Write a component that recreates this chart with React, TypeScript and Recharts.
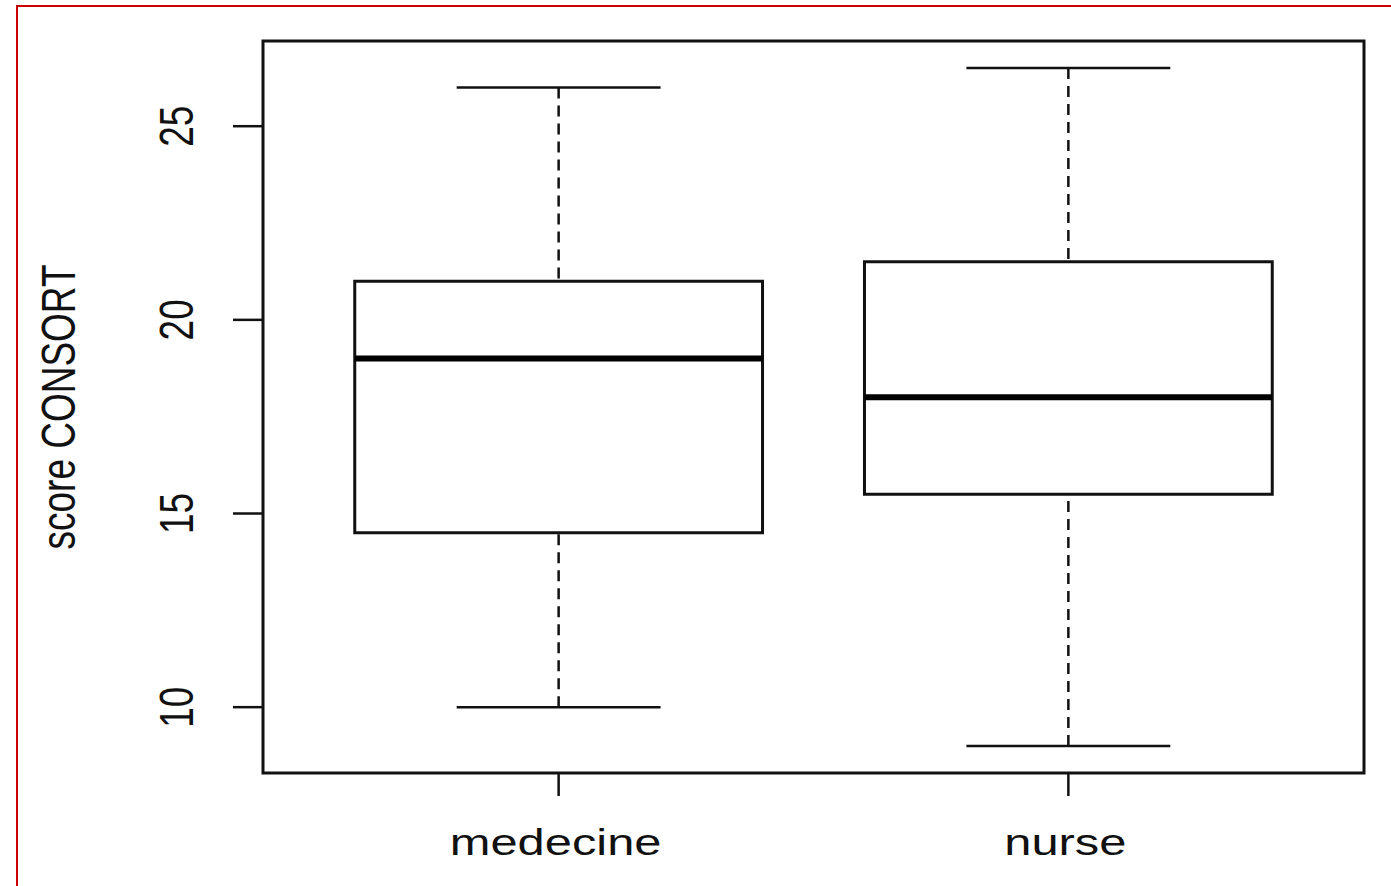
import React from 'react';
import { ComposedChart, XAxis, YAxis, ReferenceArea, ReferenceLine, Scatter } from 'recharts';

// ---- data ----
const categories = ['medecine', 'nurse'];
const positions = [1, 2];
const whiskerLow = [10, 9];
const q1 = [14.5, 15.5];
const median = [19, 18];
const q3 = [21, 21.5];
const whiskerHigh = [26, 26.5];
const yTicks = [10, 15, 20, 25];
const xDomain = [0.42, 2.58];
const yDomain = [8.3, 27.2];
const yLabel = 'score CONSORT';

const chartData = positions.map((p, i) => ({ x: p, y: median[i], name: categories[i] }));

const FONT = '"Liberation Sans", Arial, sans-serif';
const STRETCH = 1.32;
const FS = 37;
const BOX_HALF = 0.4;
const CAP_HALF = 0.2;

const YTick = (props: any) => {
  const { x, y, payload } = props;
  return (
    <g>
      <text
        transform={`translate(${x - 40}, ${y}) scale(${STRETCH},1) rotate(-90)`}
        textAnchor="middle"
        fontFamily={FONT}
        fontSize={FS}
        fill="#111"
      >
        {payload.value}
      </text>
    </g>
  );
};

const XTick = (props: any) => {
  const { x, y, payload } = props;
  const idx = positions.indexOf(payload.value);
  return (
    <g>
      <text
        transform={`translate(${x - 3}, ${y + 59}) scale(${STRETCH},1)`}
        textAnchor="middle"
        fontFamily={FONT}
        fontSize={FS}
        fill="#111"
      >
        {idx >= 0 ? categories[idx] : ''}
      </text>
    </g>
  );
};

const YTitle = (props: any) => {
  const vb = props.viewBox || {};
  const cy = (vb.y ?? 41) + (vb.height ?? 732) / 2;
  return (
    <text
      transform={`translate(75, ${cy}) scale(${STRETCH},1) rotate(-90)`}
      textAnchor="middle"
      fontFamily={FONT}
      fontSize={FS}
      fill="#111"
    >
      {yLabel}
    </text>
  );
};

export default function App() {
  return (
    <div style={{ position: 'absolute', left: 0, top: 0, width: 1391, height: 886, overflow: 'hidden', background: '#fff' }}>
      <div
        style={{
          position: 'absolute',
          left: 16,
          top: 5,
          width: 2000,
          height: 2000,
          borderLeft: '2px solid #cc0000',
          borderTop: '2px solid #cc0000',
        }}
      />
      <div style={{ position: 'absolute', left: 0, top: 0 }}>
        <ComposedChart width={1391} height={886} data={chartData} margin={{ top: 41, right: 27, bottom: 0, left: 0 }}>
          <XAxis
            type="number"
            dataKey="x"
            domain={xDomain}
            ticks={positions}
            allowDataOverflow
            axisLine={false}
            tickSize={23}
            tickMargin={0}
            tickLine={{ stroke: '#111', strokeWidth: 2.5 }}
            tick={<XTick />}
            height={113}
            interval={0}
          />
          <YAxis
            type="number"
            domain={yDomain}
            ticks={yTicks}
            allowDataOverflow
            axisLine={false}
            tickSize={30}
            tickMargin={0}
            tickLine={{ stroke: '#111', strokeWidth: 2.5 }}
            tick={<YTick />}
            width={263}
            interval={0}
            label={<YTitle />}
          />
          <Scatter dataKey="y" isAnimationActive={false} fill="none" shape={() => null} />
          {positions.map((p, i) => (
            <React.Fragment key={categories[i]}>
              <ReferenceLine
                segment={[{ x: p, y: whiskerHigh[i] }, { x: p, y: q3[i] }]}
                stroke="#111"
                strokeWidth={2.5}
                strokeDasharray="11 7"
                ifOverflow="visible"
              />
              <ReferenceLine
                segment={[{ x: p, y: whiskerLow[i] }, { x: p, y: q1[i] }]}
                stroke="#111"
                strokeWidth={2.5}
                strokeDasharray="11 7"
                ifOverflow="visible"
              />
              <ReferenceLine
                segment={[{ x: p - CAP_HALF, y: whiskerHigh[i] }, { x: p + CAP_HALF, y: whiskerHigh[i] }]}
                stroke="#111"
                strokeWidth={2.5}
                ifOverflow="visible"
              />
              <ReferenceLine
                segment={[{ x: p - CAP_HALF, y: whiskerLow[i] }, { x: p + CAP_HALF, y: whiskerLow[i] }]}
                stroke="#111"
                strokeWidth={2.5}
                ifOverflow="visible"
              />
              <ReferenceArea
                x1={p - BOX_HALF}
                x2={p + BOX_HALF}
                y1={q1[i]}
                y2={q3[i]}
                fill="#fff"
                fillOpacity={1}
                stroke="#111"
                strokeWidth={3}
                ifOverflow="visible"
              />
              <ReferenceLine
                segment={[{ x: p - BOX_HALF, y: median[i] }, { x: p + BOX_HALF, y: median[i] }]}
                stroke="#000"
                strokeWidth={6}
                ifOverflow="visible"
              />
            </React.Fragment>
          ))}
          <ReferenceArea
            x1={xDomain[0]}
            x2={xDomain[1]}
            y1={yDomain[0]}
            y2={yDomain[1]}
            fill="none"
            stroke="#111"
            strokeWidth={3}
            ifOverflow="visible"
          />
        </ComposedChart>
      </div>
    </div>
  );
}
